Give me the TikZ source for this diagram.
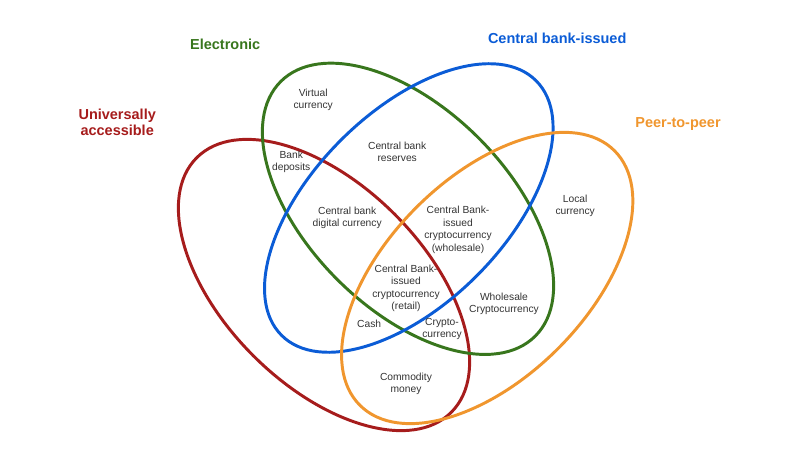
\documentclass[tikz,border=0pt]{standalone}
\usepackage{fontspec}
\setmainfont{Liberation Sans}
\usetikzlibrary{shapes.geometric}
\definecolor{uared}{HTML}{A61C1C}
\definecolor{elgreen}{HTML}{38761D}
\definecolor{cbblue}{HTML}{0B5CD6}
\definecolor{pporange}{HTML}{F0962E}

\begin{document}
\begin{tikzpicture}[line width=2.1pt]
  \tikzstyle{every node}=[font=\fontsize{7.3}{8.9}\selectfont,text=black!80,align=center]
  \tikzstyle{set}=[ellipse,minimum width=9cm,minimum height=5cm,inner sep=0pt]
  \tikzstyle{title}=[font=\fontsize{10.3}{11.5}\selectfont\bfseries]
\useasboundingbox (0,0) rectangle (20,11.25);
% the four sets
\node[set,draw=uared,rotate=-45] (ua) at (8.1,4.125) {};
\node[set,draw=elgreen,rotate=-45] (el) at (10.2,6.03) {};
\node[set,draw=cbblue,rotate=45,minimum height=4.8cm] (cb) at (10.22,6.05) {};
\node[set,draw=pporange,rotate=45] (pp) at (12.18,4.3) {};
% set titles
\node[title,text=elgreen] (tel) at (5.63,10.13) {Electronic};
\node[title,text=cbblue] (tcb) at (13.93,10.3) {Central bank-issued};
\node[title,text=uared] (tua) at (2.93,8.2) {Universally\\accessible};
\node[title,text=pporange] (tpp) at (16.95,8.15) {Peer-to-peer};
% regions
\node (virt) at (7.83,8.75) {Virtual\\currency};
\node (res) at (9.93,7.45) {Central bank\\reserves};
\node (dep) at (7.28,7.2) {Bank\\deposits};
\node (cbdc) at (8.68,5.8) {Central bank\\digital currency};
\node (whcb) at (11.45,5.5) {Central Bank-\\issued\\cryptocurrency\\(wholesale)};
\node (loc) at (14.38,6.1) {Local\\currency};
\node (ret) at (10.15,4.04) {Central Bank-\\issued\\cryptocurrency\\(retail)};
\node (whcr) at (12.6,3.65) {Wholesale\\Cryptocurrency};
\node (cash) at (9.23,3.15) {Cash};
\node (cryp) at (11.05,3.03) {Crypto-\\currency};
\node (comm) at (10.15,1.65) {Commodity\\money};
\end{tikzpicture}
\end{document}
